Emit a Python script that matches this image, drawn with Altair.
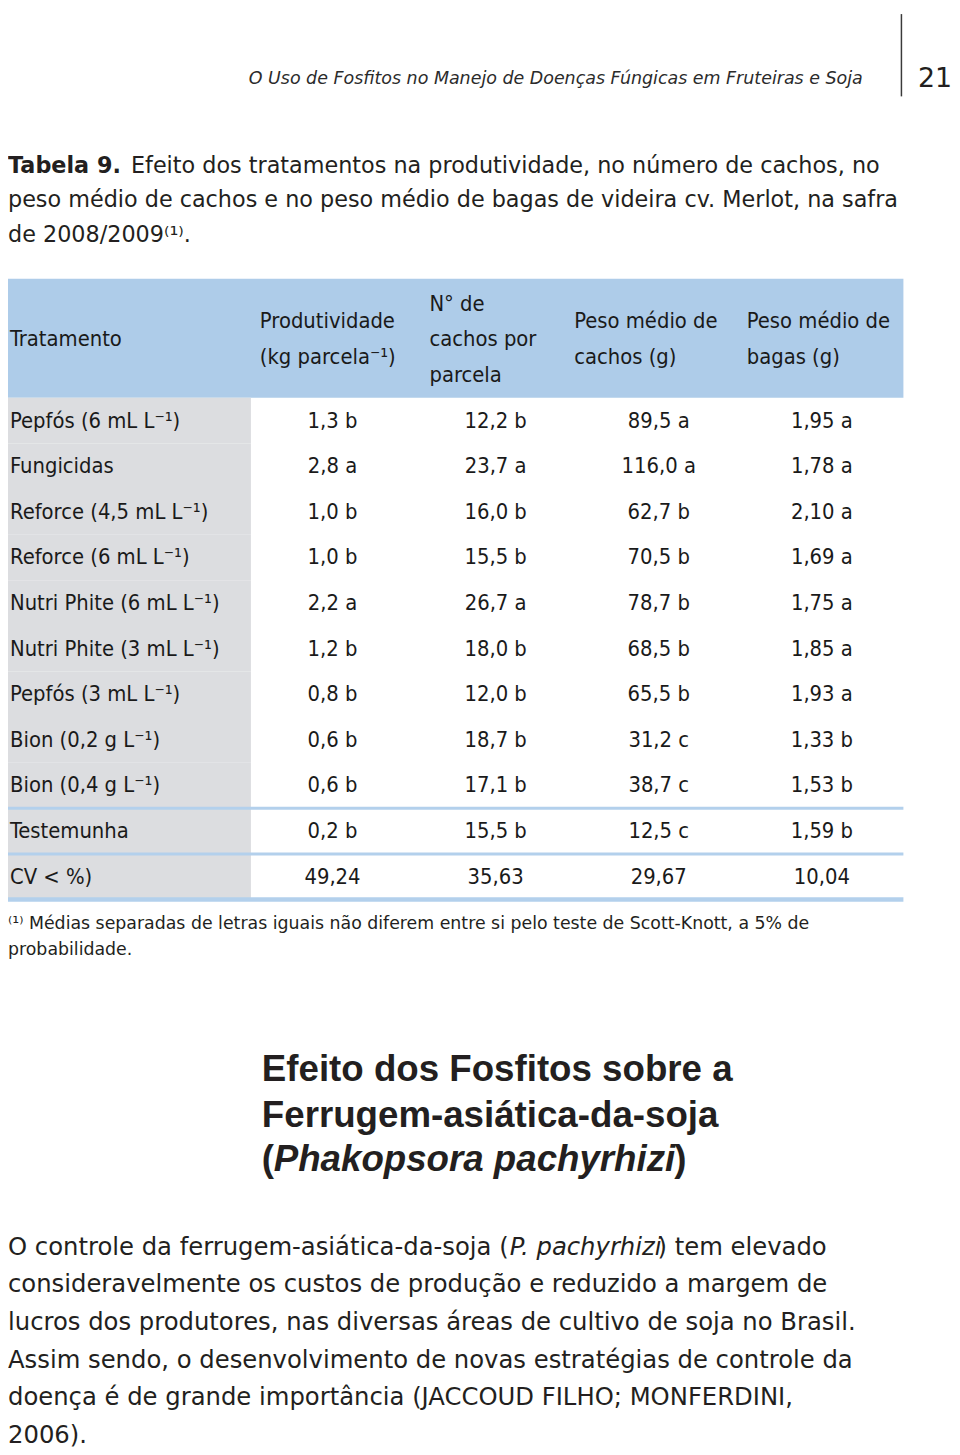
import altair as alt
import pandas as pd

# ---------------- text content ----------------
running_head = "O Uso de Fosfitos no Manejo de Doenças Fúngicas em Fruteiras e Soja"
page_number = "21"
caption_bold = "Tabela 9."
caption_first = "Efeito dos tratamentos na produtividade, no número de cachos, no"
caption_rest = [
    "peso médio de cachos e no peso médio de bagas de videira cv. Merlot, na safra",
    "de 2008/2009⁽¹⁾.",
]
footnote_lines = [
    "⁽¹⁾ Médias separadas de letras iguais não diferem entre si pelo teste de Scott-Knott, a 5% de",
    "probabilidade.",
]
heading_lines = ["Efeito dos Fosfitos sobre a", "Ferrugem-asiática-da-soja"]
heading_species = "Phakopsora pachyrhizi"
para_first = ["O controle da ferrugem-asiática-da-soja (", "P. pachyrhizi", ") tem elevado"]
para_rest = [
    "consideravelmente os custos de produção e reduzido a margem de",
    "lucros dos produtores, nas diversas áreas de cultivo de soja no Brasil.",
    "Assim sendo, o desenvolvimento de novas estratégias de controle da",
    "doença é de grande importância (JACCOUD FILHO; MONFERDINI,",
    "2006).",
]

# ---------------- table data ----------------
header_first = "Tratamento"
columns = ["Produtividade", "Cachos", "PesoCachos", "PesoBagas"]
header_lines = [
    ["Produtividade", "(kg parcela⁻¹)"],
    ["N° de", "cachos por", "parcela"],
    ["Peso médio de", "cachos (g)"],
    ["Peso médio de", "bagas (g)"],
]
treatments = [
    "Pepfós (6 mL L⁻¹)",
    "Fungicidas",
    "Reforce (4,5 mL L⁻¹)",
    "Reforce (6 mL L⁻¹)",
    "Nutri Phite (6 mL L⁻¹)",
    "Nutri Phite (3 mL L⁻¹)",
    "Pepfós (3 mL L⁻¹)",
    "Bion (0,2 g L⁻¹)",
    "Bion (0,4 g L⁻¹)",
    "Testemunha",
]
cv_label = "CV < %)"
produtividade = [1.3, 2.8, 1.0, 1.0, 2.2, 1.2, 0.8, 0.6, 0.6, 0.2]
produtividade_grp = ["b", "a", "b", "b", "a", "b", "b", "b", "b", "b"]
cachos = [12.2, 23.7, 16.0, 15.5, 26.7, 18.0, 12.0, 18.7, 17.1, 15.5]
cachos_grp = ["b", "a", "b", "b", "a", "b", "b", "b", "b", "b"]
peso_cachos = [89.5, 116.0, 62.7, 70.5, 78.7, 68.5, 65.5, 31.2, 38.7, 12.5]
peso_cachos_grp = ["a", "a", "b", "b", "b", "b", "b", "c", "c", "c"]
peso_bagas = [1.95, 1.78, 2.10, 1.69, 1.75, 1.85, 1.93, 1.33, 1.53, 1.59]
peso_bagas_grp = ["a", "a", "a", "a", "a", "a", "a", "b", "b", "b"]
cv_values = [49.24, 35.63, 29.67, 10.04]
decimals = [1, 1, 1, 2]
separator_rows = ["Bion (0,4 g L⁻¹)", "Testemunha"]

# ---------------- styles ----------------
INK = "#231f20"
BLUE = "#aecce9"
LINE = "#b3d0ec"
GRAY = "#dcdde0"
NARROW = "DejaVu Sans Condensed, Roboto, sans-serif"
BODY = "DejaVu Sans"
HEAD = "Liberation Sans"
TFS = 22

row_labels = treatments + [cv_label]


def fmt(v, d):
    return f"{v:.{d}f}".replace(".", ",")


records = []
series = [(produtividade, produtividade_grp), (cachos, cachos_grp),
          (peso_cachos, peso_cachos_grp), (peso_bagas, peso_bagas_grp)]
for ci, (vals, grps) in enumerate(series):
    for t, v, g in zip(treatments, vals, grps):
        records.append({"row": t, "col": columns[ci], "label": f"{fmt(v, decimals[ci])} {g}"})
    records.append({"row": cv_label, "col": columns[ci], "label": fmt(cv_values[ci], 2)})
cells = pd.DataFrame(records)
rows_df = pd.DataFrame({"row": row_labels})

row_scale = alt.Scale(type="band", domain=row_labels, range=[387, 893], paddingInner=0, paddingOuter=0)
col_scale = alt.Scale(type="band", domain=columns, range=[245, 903], paddingInner=0, paddingOuter=0)
Y = alt.Y("row:N", scale=row_scale, axis=None)

one = alt.Data(values=[{}])


def label(text, x, y, size, font=BODY, weight="normal", style="normal",
          align="left", baseline="middle", color=INK):
    return alt.Chart(alt.Data(values=[{"t": text}])).mark_text(
        align=align, baseline=baseline, font=font, fontSize=size,
        fontWeight=weight, fontStyle=style, color=color
    ).encode(x=alt.value(x), y=alt.value(y), text="t:N")


layers = []

# running head
layers.append(label(running_head, 862, 71, 17.6, style="italic", align="right",
                    baseline="alphabetic", color="#2b2b2b"))
layers.append(alt.Chart(one).mark_rule(color="#3a3a3a", strokeWidth=1.5).encode(
    x=alt.value(901), y=alt.value(0), y2=alt.value(83)))
layers.append(label(page_number, 952, 74, 27, align="right", baseline="alphabetic"))

# caption
layers.append(label(caption_bold, 0, 153, 22.5, weight="bold"))
layers.append(label(caption_first, 124, 153, 22.5))
for i, line in enumerate(caption_rest):
    layers.append(label(line, 0, 188 + 35 * i, 22.5))

# table background
layers.append(alt.Chart(one).mark_rect(color=BLUE).encode(
    x=alt.value(0), x2=alt.value(903), y=alt.value(267), y2=alt.value(387)))
layers.append(alt.Chart(rows_df).mark_rect(color=GRAY).encode(
    y=Y, x=alt.value(0), x2=alt.value(245)))

# header text
layers.append(label(header_first, 2, 328, TFS, font=NARROW, color="#1a1a1a"))
header_x = [254, 425, 571, 745]
for hx, lines in zip(header_x, header_lines):
    n = len(lines)
    for j, line in enumerate(lines):
        layers.append(label(line, hx, 328 + 36 * (j - (n - 1) / 2), TFS, font=NARROW, color="#1a1a1a"))

# row labels and values
layers.append(alt.Chart(rows_df).mark_text(
    align="left", baseline="middle", font=NARROW, fontSize=TFS, color="#1a1a1a"
).encode(y=Y, x=alt.value(2), text="row:N"))
layers.append(alt.Chart(cells).mark_text(
    align="center", baseline="middle", font=NARROW, fontSize=TFS, color="#1a1a1a"
).encode(y=Y, x=alt.X("col:N", scale=col_scale, axis=None), text="label:N"))

# separator lines
layers.append(alt.Chart(pd.DataFrame({"row": separator_rows})).mark_rule(
    color=LINE, strokeWidth=3).encode(
    y=alt.Y("row:N", scale=row_scale, axis=None, bandPosition=1),
    x=alt.value(0), x2=alt.value(903)))
layers.append(alt.Chart(pd.DataFrame({"row": [cv_label]})).mark_rule(
    color=LINE, strokeWidth=4.5).encode(
    y=alt.Y("row:N", scale=row_scale, axis=None, bandPosition=1),
    x=alt.value(0), x2=alt.value(903)))

# footnote
for i, line in enumerate(footnote_lines):
    layers.append(label(line, 0, 918 + 26 * i, 17.5))

# section heading
for i, line in enumerate(heading_lines):
    layers.append(label(line, 256, 1065 + 46 * i, 37, font=HEAD, weight="bold"))
layers.append(label("(", 256, 1156, 37, font=HEAD, weight="bold"))
layers.append(label(heading_species, 268, 1156, 37, font=HEAD, weight="bold", style="italic"))
layers.append(label(")", 672, 1156, 37, font=HEAD, weight="bold"))

# paragraph
layers.append(label(para_first[0], 0, 1244, 24.5))
layers.append(label(para_first[1], 506, 1244, 24.5, style="italic"))
layers.append(label(para_first[2], 655, 1244, 24.5))
for i, line in enumerate(para_rest):
    layers.append(label(line, 0, 1282 + 38 * i, 24.5))

chart = alt.layer(*layers).properties(
    width=952, height=1447, padding=0,
    autosize=alt.AutoSizeParams(type="none"),
).configure_view(stroke=None)

chart.save("out.html", embed_options={"renderer": "svg", "actions": False})
